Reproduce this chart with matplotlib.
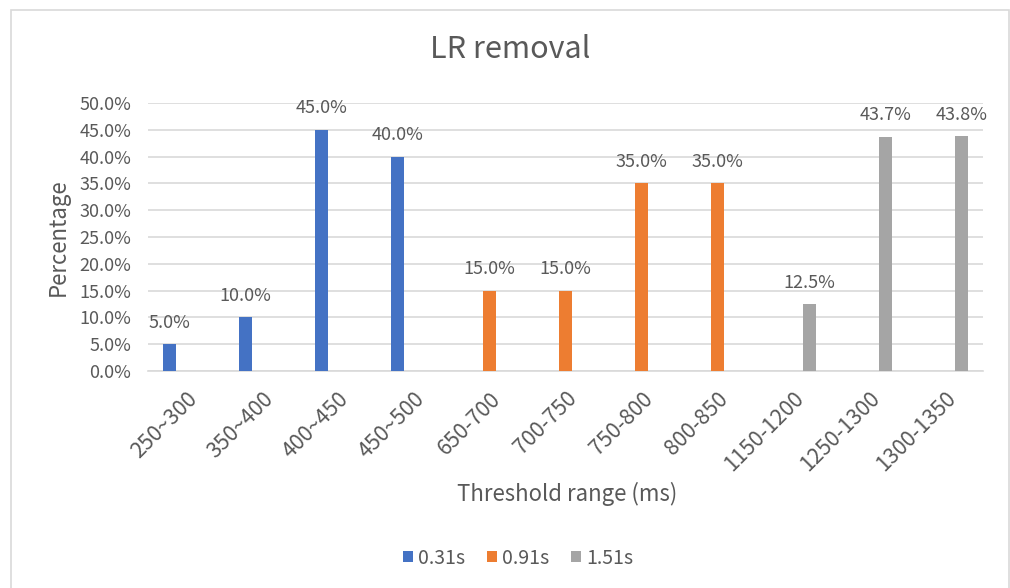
import numpy as np
import matplotlib
matplotlib.use("Agg")
import matplotlib.pyplot as plt
from matplotlib.patches import Rectangle, Patch

plt.rcParams['font.family'] = ['Noto Sans CJK SC', 'DejaVu Sans']
plt.rcParams['font.weight'] = 'light'

categories = ["250~300", "350~400", "400~450", "450~500", "650-700", "700-750",
              "750-800", "800-850", "1150-1200", "1250-1300", "1300-1350"]
series_names = ["0.31s", "0.91s", "1.51s"]
s031 = [5.0, 10.0, 45.0, 40.0, None, None, None, None, None, None, None]
s091 = [None, None, None, None, 15.0, 15.0, 35.0, 35.0, None, None, None]
s151 = [None, None, None, None, None, None, None, None, 12.5, 43.7, 43.8]
yticks = [0, 5, 10, 15, 20, 25, 30, 35, 40, 45, 50]

colors = ["#4472C4", "#ED7D31", "#A5A5A5"]
txt = "#595959"
grid = "#D9D9D9"

W, H = 1010, 588
fig = plt.figure(figsize=(W / 100, H / 100), dpi=100)
fig.patch.set_facecolor("white")

# outer chart border
fig.add_artist(Rectangle((11 / W, -0.05), (1009 - 11) / W, 1.05 - 9.5 / H,
                         transform=fig.transFigure, fill=False,
                         edgecolor=grid, lw=1.2, clip_on=False))

ax = fig.add_axes([148 / W, (H - 371) / H, (983 - 148) / W, (371 - 103) / H])
x = np.arange(len(categories))
bw = 13 / 76
off = 16.5 / 76
for k, (vals, c) in enumerate(zip([s031, s091, s151], colors)):
    xs = [xi + (k - 1) * off for xi, v in zip(x, vals) if v is not None]
    vs = [v for v in vals if v is not None]
    ax.bar(xs, vs, width=bw, color=c, zorder=3, label=series_names[k])
    for xi, v in zip(xs, vs):
        ax.annotate(f"{v:.1f}%", (xi, v), xytext=(0, 9), textcoords="offset points",
                    ha="center", va="bottom", fontsize=13, color=txt)

ax.set_xlim(-0.5, len(categories) - 0.5)
ax.set_ylim(0, 50)
ax.set_yticks(yticks)
ax.set_yticklabels([f"{t:.1f}%" for t in yticks], fontsize=13, color=txt)
ax.yaxis.grid(True, color=grid, lw=1.2, zorder=0)
ax.set_axisbelow(True)
ax.tick_params(axis="both", length=0)
ax.tick_params(axis="y", pad=12)
for s in ["top", "right", "left"]:
    ax.spines[s].set_visible(False)
ax.spines["bottom"].set_color(grid)
ax.spines["bottom"].set_linewidth(1.2)

ax.set_xticks(x)
ax.set_xticklabels(categories, rotation=45, ha="right", va="top",
                   rotation_mode="anchor", fontsize=15.5, color=txt)
ax.tick_params(axis="x", pad=12)

fig.text(510 / W, 1 - 50 / H, "LR removal", ha="center", va="center",
         fontsize=22, color=txt)
fig.text(567 / W, 1 - 494 / H, "Threshold range (ms)", ha="center", va="center",
         fontsize=16, color=txt)
fig.text(58 / W, 1 - 237 / H, "Percentage", ha="center", va="center",
         rotation=90, fontsize=16, color=txt)

handles = [Patch(facecolor=c, edgecolor="none") for c in colors]
fig.legend(handles, series_names, loc="center", bbox_to_anchor=(518 / W, 1 - 558 / H),
           ncol=3, frameon=False, fontsize=14, labelcolor=txt,
           handlelength=0.55, handleheight=0.55, handletextpad=0.25, columnspacing=1.1)

fig.savefig("out.png", dpi=100, facecolor="white")
